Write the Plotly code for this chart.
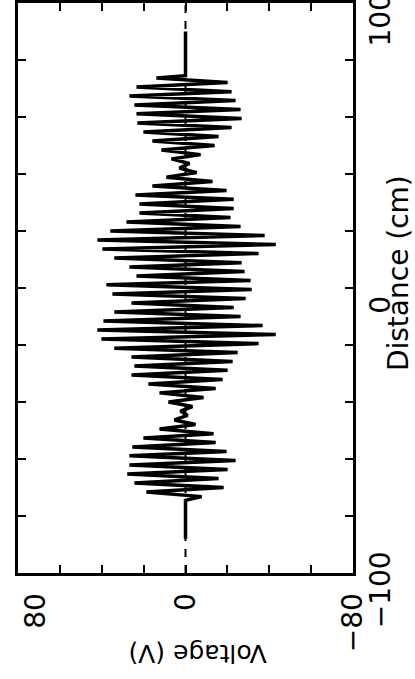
import plotly.graph_objects as go

# Data (chart is drawn rotated: distance runs vertically)
distance_cm = [90, 74.5,
               73.7, 72.1, 70.5, 68.9, 67.4, 65.8, 64.2, 62.6, 61.1, 59.5,
               57.9, 56.3, 54.7, 53.2, 51.6, 50.0, 48.4, 46.8, 45.3, 43.7,
               42.1, 40.5, 38.9, 37.4, 35.8, 34.2, 32.6, 31.1, 29.5, 27.9,
               26.3, 24.7, 23.2, 21.6, 20.0, 18.4, 16.8, 15.3, 13.7, 12.1,
               10.5, 8.9, 7.4, 5.8, 4.2, 2.6, 1.1, -0.5, -2.1, -3.7,
               -5.3, -6.8, -8.4, -10.0, -11.6, -13.2, -14.7, -16.3, -17.9, -19.5,
               -21.1, -22.6, -24.2, -25.8, -27.4, -28.9, -30.5, -32.1, -33.7, -35.3,
               -36.8, -38.4, -40.0, -41.6, -43.2, -44.7, -46.3, -47.9, -49.5, -51.1,
               -52.6, -54.2, -55.8, -57.4, -58.9, -60.5, -62.1, -63.7, -65.3, -66.8,
               -68.4, -70.0, -71.6, -73.2,
               -74.5, -88]
voltage_v = [0, 0,
             13.9, -20.1, 23.4, -22.0, 26.8, -23.9, 24.4, -26.3, 23.4, -26.8,
             23.0, -22.0, 20.1, -15.8, 15.8, -13.9, 11.5, -7.2, 6.7, -1.9,
             2.9, -5.3, 9.1, -12.9, 15.8, -19.6, 23.9, -23.0, 22.0, -23.0,
             22.0, -21.5, 28.2, -26.3, 35.9, -37.8, 42.1, -43.1, 39.7, -34.9,
             34.0, -26.8, 26.8, -28.2, 23.4, -31.1, 37.8, -31.6, 34.9, -28.7,
             25.8, -23.0, 34.0, -26.3, 39.2, -36.8, 42.1, -43.1, 40.2, -34.9,
             34.0, -24.9, 25.8, -22.5, 24.4, -20.1, 25.8, -17.7, 17.7, -14.4,
             12.4, -8.6, 8.1, -3.3, 2.4, -1.0, 5.3, -4.8, 12.4, -13.4,
             20.1, -14.4, 25.4, -19.6, 26.8, -23.9, 26.8, -20.1, 27.8, -15.8,
             24.4, -18.2, 18.7, -7.7,
             0, 0]

zero_line_distance = [-100, 100]
zero_line_voltage = [0, 0]

NB = "\u00a0"
volt_tickvals = [80, 60, 40, 20, 0, -20, -40, -60, -80]
volt_ticktext = [NB + "<br>80", "", "", "", "0", "", "", "", "\u221280"]
dist_tickvals = [-100, -80, -60, -40, -20, 0, 20, 40, 60, 80, 100]
dist_ticktext = ["\u2212100", "", "", "", "", "0", "", "", "", "", "100"]

FONT = "DejaVu Sans"

fig = go.Figure()
fig.add_trace(go.Scatter(x=zero_line_voltage, y=zero_line_distance, mode="lines",
                         line=dict(color="black", width=2, dash="8px,8px"),
                         showlegend=False, hoverinfo="skip"))
fig.add_trace(go.Scatter(x=voltage_v, y=distance_cm, mode="lines",
                         line=dict(color="black", width=3.5),
                         showlegend=False))

axis_common = dict(showgrid=False, zeroline=False, showline=True, linewidth=3,
                   linecolor="black", mirror="ticks", ticks="inside", ticklen=8,
                   tickwidth=2, tickcolor="black", tickangle=-90,
                   ticklabeloverflow="allow", automargin=False,
                   tickfont=dict(family=FONT, size=28, color="black"))

fig.update_xaxes(range=[80, -80], tickmode="array", tickvals=volt_tickvals,
                 ticktext=volt_ticktext, ticklabelstandoff=6, **axis_common)
fig.update_yaxes(range=[-100, 100], side="right", tickmode="array",
                 tickvals=dist_tickvals, ticktext=dist_ticktext,
                 ticklabelstandoff=0, ticklabelshift=21, **axis_common)

fig.add_annotation(text="Distance (cm)", xref="paper", yref="paper",
                   x=1.134, y=0.526, xanchor="center", yanchor="middle",
                   textangle=-90, showarrow=False,
                   font=dict(family=FONT, size=28, color="black"))
fig.add_annotation(text="Voltage (V)", xref="paper", yref="paper",
                   x=0.537, y=-0.14, xanchor="center", yanchor="middle",
                   textangle=180, showarrow=False,
                   font=dict(family=FONT, size=25, color="black"))

fig.update_layout(width=415, height=679, margin=dict(l=18, r=62, t=3, b=106),
                  paper_bgcolor="white", plot_bgcolor="white")

fig.write_html("out.html")
